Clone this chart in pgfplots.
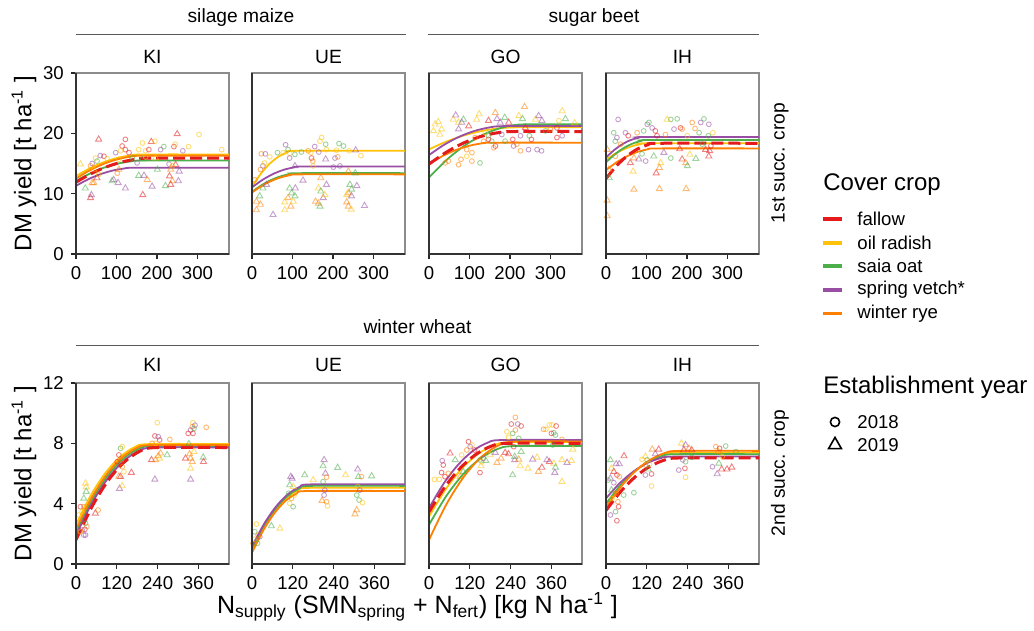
\documentclass[border=0pt]{standalone}
\usepackage{fontspec}
\setmainfont{Liberation Sans}
\usepackage{pgfplots}
\usepackage{pgfplotstable}
\pgfplotsset{compat=1.18}

\definecolor{cF}{HTML}{E41A1C}
\definecolor{cR}{HTML}{FFC20A}
\definecolor{cS}{HTML}{4DAF4A}
\definecolor{cV}{HTML}{984EA3}
\definecolor{cW}{HTML}{FF7F00}
\newcommand\fs[1]{\fontsize{#1}{#1}\selectfont}

\pgfplotsset{
  panel/.style={scale only axis, width=76.5pt, height=90.5pt, anchor=north west,
    xmin=0, ymin=0, axis line style={draw=black!45, line width=0.6pt},
    tick pos=left, tick align=outside, major tick length=2.6pt,
    every tick/.style={black!85, line width=0.6pt},
    ticklabel style={font=\fs{9.3}},
    /pgf/number format/assume math mode=true,
    extra description/.code={\draw[black!80, line width=0.6pt] (0,1)--(0,0)--(1,0);}},
  toprow/.style={panel, xmax=378, ymax=30, xtick={0,100,200,300}, ytick={0,10,20,30}},
  botrow/.style={panel, xmax=450, ymax=12, xtick={0,120,240,360}, ytick={0,4,8,12}},
  noy/.style={ytick=\empty},
  pts/.style={scatter, only marks, scatter src=explicit symbolic,
    mark options={line width=0.45pt, opacity=0.55},
    scatter/classes={
      Fo={mark=o, draw=cF, mark size=1.2pt}, Ft={mark=triangle, draw=cF, mark size=1.75pt},
      Ro={mark=o, draw=cR, mark size=1.2pt}, Rt={mark=triangle, draw=cR, mark size=1.75pt},
      So={mark=o, draw=cS, mark size=1.2pt}, St={mark=triangle, draw=cS, mark size=1.75pt},
      Vo={mark=o, draw=cV, mark size=1.2pt}, Vt={mark=triangle, draw=cV, mark size=1.75pt},
      Wo={mark=o, draw=cW, mark size=1.2pt}, Wt={mark=triangle, draw=cW, mark size=1.75pt}}},
  cv/.style={#1, line width=0.9pt, smooth, no marks},
  cvF/.style={cF, line width=1.5pt, smooth, no marks, dash pattern=on 6pt off 2.5pt},
}

% ---- points: x y class (F fallow, R oil radish, S saia oat, V spring vetch, W winter rye; o 2018, t 2019)
\pgfplotstableread{
x y c
11 14.9 Rt
56 19.0 Ft
122 19.0 Fo
304 19.8 Ro
250 19.9 Ft
360 17.3 Ro
278 17.8 Ro
164 18.4 Ro
186 18.6 Ft
195 18.7 Ro
209 17.3 Vo
217 17.8 So
242 17.8 Fo
264 17.1 Vo
245 18.2 Ro
122 17.3 Fo
114 17.9 Fo
98 16.8 Vo
131 16.8 Fo
110 17.1 Ro
155 17.3 Ro
172 17.1 Ro
180 17.3 Fo
60 16.3 Vo
69 16.2 Fo
48 15.9 Ro
77 15.8 Ro
40 15.0 Vo
52 15.4 So
36 14.6 Wo
44 14.0 Rt
106 15.7 Ro
139 15.9 So
151 15.1 Vo
164 15.7 St
172 16.1 Ro
197 15.9 Rt
230 14.9 Vo
238 14.6 Ro
246 14.8 Ft
255 13.7 Vt
234 14.0 Wt
102 13.4 Wo
106 14.0 Wt
93 12.3 Vt
89 12.1 St
104 11.8 Vt
122 10.9 Vt
155 13.0 St
168 13.0 Vt
176 12.3 Wt
201 14.0 St
188 11.2 Vt
165 9.8 Ft
231 12.9 Ft
238 12.1 Wt
221 11.3 St
234 11.5 Ft
253 12.1 Vt
23 10.9 St
38 9.8 Vt
36 9.3 Ft
40 11.8 Wt
44 11.8 Wt
52 12.6 Ft
56 13.2 Ro
}\tKIa
\pgfplotstableread{
x y c
23 16.6 Wo
33 16.6 Vo
44 16.1 Ro
63 16.8 So
83 18.1 Vo
89 17.3 So
77 16.8 Ro
93 16.7 Ro
93 15.9 Vo
106 16.5 So
122 16.9 So
139 17.1 Wo
145 16.8 Ro
155 17.8 Vo
147 15.9 Fo
150 15.4 Wo
151 14.6 Ro
168 18.7 Ro
172 19.3 Ro
182 18.2 So
165 16.9 Vo
184 17.3 Ro
209 17.2 Ro
215 18.3 So
226 17.9 So
240 17.1 Ro
205 15.9 Vo
212 16.1 Wo
201 14.4 Vo
217 14.6 Vo
269 16.3 Ro
256 17.2 Vt
21 14.0 Wo
27 14.6 Vo
31 15.1 Ro
7 12.3 Wo
106 14.6 Vt
126 12.2 Vt
170 12.6 Wt
182 15.7 Vt
238 13.7 Wt
255 13.4 St
93 10.9 St
98 10.1 St
106 9.6 St
89 9.3 Wt
81 8.6 Rt
96 7.9 Wt
81 7.3 Rt
102 8.7 Rt
107 10.9 Vt
164 10.9 Rt
170 10.4 St
184 11.5 Vt
176 9.3 Vt
157 8.7 Wt
164 8.4 Wt
168 7.9 St
180 9.8 Rt
242 11.5 St
246 10.7 St
238 10.1 Wt
234 9.8 Rt
234 8.6 Wt
238 7.9 Wt
245 7.4 Rt
259 11.3 Vt
246 9.6 Vt
278 8.0 Vt
11 8.7 Wt
11 7.3 Wt
19 9.6 St
21 8.2 Wt
27 10.9 St
36 11.5 Vt
52 6.5 Vt
}\tUEa
\pgfplotstableread{
x y c
15 21.5 Rt
23 21.9 Rt
31 20.7 Rt
11 20.4 Rt
27 19.8 Rt
60 22.3 Rt
73 21.8 Rt
118 22.3 Rt
124 23.2 Rt
164 23.4 Wt
222 22.9 Rt
236 24.4 Wt
263 22.3 Rt
329 23.7 Rt
321 22.1 Ro
360 21.7 Rt
66 23.0 Vt
81 21.8 Vt
73 20.7 Vt
168 22.4 Vt
176 21.8 Vt
271 22.9 Vt
279 22.1 Vt
226 19.6 Vo
85 22.3 St
187 22.6 St
231 22.4 St
337 22.4 St
147 19.6 So
98 21.2 Ft
147 22.1 Ft
197 21.8 Ft
316 20.9 Fo
238 20.9 Ft
114 19.3 Wo
135 18.7 Wo
160 17.6 Wo
164 17.9 Fo
155 18.7 So
188 18.7 So
207 19.0 Fo
217 18.2 Wo
209 17.9 Vo
226 17.1 Wo
246 17.3 Vo
253 19.0 Fo
248 19.6 So
267 17.3 Vo
278 17.1 Vo
288 20.4 So
300 20.7 Wo
316 19.3 Fo
329 19.6 Vo
180 19.8 Vo
139 20.1 Ro
40 15.1 Wo
48 15.4 Wo
73 14.8 Wo
79 15.7 Wo
93 16.2 Ro
106 15.4 Wo
126 15.1 So
93 17.3 Wo
106 16.8 Wo
147 19.0 Fo
}\tGOa
\pgfplotstableread{
x y c
30 22.3 Vo
19 20.1 So
27 19.3 Vo
23 18.7 So
36 18.2 Wo
48 20.1 Vo
55 19.6 Fo
77 20.1 Wo
93 20.4 So
102 21.5 Vo
106 21.8 So
114 20.9 Vo
122 20.4 Fo
126 19.6 Fo
147 19.8 Wo
160 22.3 So
176 22.4 So
168 20.7 Vo
184 20.9 Fo
188 20.7 Wo
213 21.8 Wo
220 20.8 Wo
234 21.8 Vo
242 22.4 So
254 21.5 Vo
264 20.1 Ro
253 19.6 So
259 17.9 Fo
246 17.3 Ft
238 18.2 So
201 19.6 Ro
230 20.1 So
151 22.3 Rt
3 17.3 Wt
8 12.6 St
7 14.0 Wt
60 15.1 Ft
69 15.9 Wt
67 13.7 Rt
69 10.7 Wt
81 15.7 Vt
98 15.4 Vo
118 16.2 St
124 13.4 Ft
135 15.1 Rt
132 14.3 Wt
132 10.8 Wt
143 16.8 Vt
160 15.9 So
188 15.7 Ft
197 15.1 Wt
201 14.6 St
198 10.8 Wt
207 16.5 Rt
222 15.8 St
254 16.2 Ft
256 17.1 Ft
3 8.9 Wt
3 6.3 Wt
23 16.2 Wo
89 16.6 So
182 17.4 Ft
}\tIHa
\pgfplotstableread{
x y c
28 5.35 Rt
30 5.1 Rt
30 4.8 St
23 4.35 St
13 3.8 Fo
23 3.8 Wo
18 3.47 Ro
8 3.25 Ro
28 2.7 So
32 2.48 Wo
18 2.25 Vo
23 1.92 Vo
28 1.92 Vo
13 2.14 Ro
26 2.3 Fo
57 3.36 Ft
65 3.58 Wo
131 7.67 So
136 7.78 Ro
126 7.23 Fo
121 6.78 Fo
134 6.9 Wo
136 6.45 Wo
126 5.8 Wt
141 6.12 Ro
128 5.0 Vt
136 5.17 Rt
163 6.06 Ft
131 5.79 Ft
239 9.37 Ro
232 8.49 Fo
242 8.44 Vo
246 8.22 Fo
234 8.0 Ro
224 8.0 Wo
222 6.9 Ft
234 6.9 Wt
242 7.16 Wt
249 7.34 Wt
232 5.61 Vt
276 8.26 Wo
268 7.23 St
246 7.0 Rt
344 9.37 Ro
342 9.1 Wo
337 8.88 Vo
350 9.2 Vo
330 8.66 Fo
344 8.66 Fo
347 8.99 So
332 7.96 St
322 7.0 Ft
337 7.0 Wt
342 6.78 Wt
347 7.45 Rt
337 6.34 Rt
337 5.61 Vt
374 7.07 St
375 6.78 Ft
383 9.06 Wo
334 7.29 Wt
}\tKIb
\pgfplotstableread{
x y c
13 2.65 Ro
8 2.14 So
18 1.92 Wo
6 1.64 Ro
16 1.37 So
23 1.81 Vo
3 1.37 Wo
57 2.52 St
82 2.36 Rt
114 5.79 Vt
118 5.68 Vt
111 5.24 St
121 5.13 Rt
108 4.69 So
116 4.35 Wo
111 4.02 Ro
121 3.8 So
124 4.57 Ro
155 5.9 St
180 5.57 Rt
212 6.9 Vt
209 6.5 St
216 6.01 Vt
219 5.75 Wo
209 5.46 So
214 4.9 Vo
206 4.2 Wt
219 4.13 Wo
222 3.85 Ro
212 4.57 Vo
252 6.39 St
275 5.9 Rt
352 5.83 St
311 6.28 Vt
313 5.79 St
322 5.79 Wo
311 5.13 Ro
308 4.57 So
315 4.24 So
325 4.07 Ro
308 3.58 Wt
303 3.31 Wt
317 4.9 Vo
}\tUEb
\pgfplotstableread{
x y c
16 5.61 Ro
30 5.61 Ro
39 6.85 Vo
42 6.56 Fo
37 6.06 Fo
47 5.79 Fo
57 6.01 Wo
62 7.34 Ft
77 6.9 St
96 7.23 Ro
101 6.12 St
92 5.79 Wt
111 7.56 Wo
116 8.11 Fo
121 7.78 Vo
126 7.89 Ro
134 7.56 Fo
150 6.9 So
155 6.78 Ro
150 6.06 Fo
160 7.0 Vo
153 6.5 Rt
167 6.85 St
180 7.23 Rt
200 6.72 Wt
212 7.0 Wt
195 7.38 Vt
224 7.38 Ft
234 7.29 Ft
254 9.72 Wo
242 9.28 Fo
261 9.28 Vo
271 9.15 Fo
229 8.77 Ro
246 8.66 So
254 8.88 Wo
234 8.4 Ro
264 8.33 So
249 7.78 Fo
252 7.12 St
252 6.9 Vt
264 6.94 Wt
271 7.45 St
268 6.5 Rt
246 5.9 St
291 6.34 Rt
344 8.93 Ro
354 9.22 Ro
362 9.22 Ro
374 9.15 Fo
337 8.93 Wo
367 8.7 So
360 8.66 Fo
372 8.55 So
364 7.89 So
391 8.26 Wo
305 6.94 Vt
318 7.07 Rt
332 6.4 Ft
322 6.12 Wt
347 6.9 Vt
354 6.78 Ft
367 6.67 Rt
372 6.4 St
370 6.06 Vt
391 6.9 Rt
406 6.72 Vt
419 6.85 Rt
423 7.6 Rt
391 5.46 Rt
}\tGOb
\pgfplotstableread{
x y c
13 6.9 St
30 6.63 Vt
39 6.63 Vt
53 7.16 Ft
16 6.34 Rt
23 6.12 Ft
32 5.9 Fo
39 5.79 Wo
13 5.68 Vt
6 5.57 So
23 5.39 Vo
16 4.9 St
30 4.69 Wo
18 4.35 Ro
35 4.13 Wo
37 3.8 Fo
28 3.47 So
13 3.25 Vo
32 2.87 Fo
52 4.57 So
82 4.73 So
116 7.12 Rt
136 7.6 Wt
155 7.6 Ft
145 7.29 Vt
121 6.9 So
128 6.63 Ro
116 5.9 Vo
134 5.97 Fo
134 5.17 Ro
124 6.28 St
106 6.94 Ro
116 6.56 Wo
222 8.0 Rt
234 7.89 Vt
244 7.67 Wt
229 7.56 Ft
252 7.56 Ft
226 6.9 Vo
234 6.78 So
214 6.23 Vo
232 6.34 Fo
234 5.75 Ro
252 7.07 So
323 7.78 Wo
334 7.67 Fo
352 7.82 So
330 7.45 Wt
342 7.12 Ro
313 6.45 Vo
332 6.67 St
340 6.28 Ft
327 5.97 Vt
356 6.28 Ft
370 6.41 Ft
382 7.45 So
}\tIHb

\begin{document}
\begin{tikzpicture}
\path[use as bounding box] (0,0) rectangle (517pt,-315.5pt);

% ---------------- top row: 1st succeeding crop
\begin{axis}[toprow, at={(38pt,-36.5pt)}]
\addplot[pts] table[x=x,y=y,meta=c]{\tKIa};
\addplot[cv=cR] coordinates {(0,12.9)(34,14.2)(68,15.2)(102,15.92)(136,16.36)(170,16.5)(378,16.5)};
\addplot[cv=cS] coordinates {(0,12.1)(34,13.32)(68,14.28)(102,14.96)(136,15.36)(170,15.5)(378,15.5)};
\addplot[cv=cV] coordinates {(0,11.3)(30,12.38)(60,13.22)(90,13.82)(120,14.18)(150,14.3)(378,14.3)};
\addplot[cv=cW] coordinates {(0,12.5)(34,13.87)(68,14.93)(102,15.69)(136,16.15)(170,16.3)(378,16.3)};
\addplot[cvF] coordinates {(0,11.9)(38,13.34)(76,14.46)(114,15.26)(152,15.74)(190,15.9)(378,15.9)};
\end{axis}

\begin{axis}[toprow, noy, at={(126pt,-36.5pt)}]
\addplot[pts] table[x=x,y=y,meta=c]{\tUEa};
\addplot[cv=cR] coordinates {(0,11.2)(22,13.32)(44,14.98)(66,16.16)(88,16.86)(110,17.1)(378,17.1)};
\addplot[cv=cS] coordinates {(0,10.3)(24,11.42)(48,12.28)(72,12.9)(96,13.28)(120,13.4)(378,13.4)};
\addplot[cv=cV] coordinates {(0,11.05)(26,12.29)(52,13.26)(78,13.95)(104,14.36)(130,14.5)(378,14.5)};
\addplot[cv=cW] coordinates {(0,10.2)(24,11.28)(48,12.12)(72,12.72)(96,13.08)(120,13.2)(378,13.2)};
\end{axis}

\begin{axis}[toprow, noy, at={(214.5pt,-36.5pt)}]
\addplot[pts] table[x=x,y=y,meta=c]{\tGOa};
\addplot[cv=cR] coordinates {(0,17.35)(44,18.66)(88,19.69)(132,20.42)(176,20.85)(220,21)(378,21)};
\addplot[cv=cS] coordinates {(0,12.7)(48,15.87)(96,18.33)(144,20.09)(192,21.15)(240,21.5)(378,21.5)};
\addplot[cv=cV] coordinates {(0,16.4)(38,18.13)(76,19.47)(114,20.43)(152,21.01)(190,21.2)(378,21.2)};
\addplot[cv=cW] coordinates {(0,14.9)(32,16.18)(64,17.17)(96,17.88)(128,18.31)(160,18.45)(378,18.45)};
\addplot[cvF] coordinates {(0,14.9)(42,16.84)(84,18.36)(126,19.44)(168,20.08)(210,20.3)(378,20.3)};
\end{axis}

\begin{axis}[toprow, noy, at={(303pt,-36.5pt)}]
\addplot[pts] table[x=x,y=y,meta=c]{\tIHa};
\addplot[cv=cR] coordinates {(0,15.6)(22,16.59)(44,17.36)(66,17.91)(88,18.24)(110,18.35)(378,18.35)};
\addplot[cv=cS] coordinates {(0,15.2)(22,16.53)(44,17.57)(66,18.31)(88,18.75)(110,18.9)(378,18.9)};
\addplot[cv=cV] coordinates {(0,16)(20,17.22)(40,18.18)(60,18.86)(80,19.26)(100,19.4)(378,19.4)};
\addplot[cv=cW] coordinates {(0,13.9)(26,15.2)(52,16.2)(78,16.92)(104,17.36)(130,17.5)(378,17.5)};
\addplot[cvF] coordinates {(0,12.5)(26,14.61)(52,16.24)(78,17.41)(104,18.12)(130,18.35)(378,18.35)};
\end{axis}

% ---------------- bottom row: 2nd succeeding crop
\begin{axis}[botrow, at={(38pt,-191.5pt)}]
\addplot[pts] table[x=x,y=y,meta=c]{\tKIb};
\addplot[cv=cR] coordinates {(0,2.6)(43,4.53)(86,6.02)(129,7.09)(172,7.74)(215,7.95)(450,7.95)};
\addplot[cv=cS] coordinates {(0,2.1)(45,4.16)(90,5.76)(135,6.9)(180,7.59)(225,7.82)(450,7.82)};
\addplot[cv=cV] coordinates {(0,1.9)(46,4.0)(92,5.62)(138,6.79)(184,7.49)(230,7.72)(450,7.72)};
\addplot[cv=cW] coordinates {(0,2.3)(44,4.31)(88,5.87)(132,6.99)(176,7.66)(220,7.88)(450,7.88)};
\addplot[cvF] coordinates {(0,1.6)(47,3.8)(94,5.52)(141,6.74)(188,7.48)(235,7.72)(450,7.72)};
\end{axis}

\begin{axis}[botrow, noy, at={(126pt,-191.5pt)}]
\addplot[pts] table[x=x,y=y,meta=c]{\tUEb};
\addplot[cv=cR] coordinates {(0,0.9)(34,2.39)(68,3.56)(102,4.39)(136,4.88)(170,5.05)(450,5.05)};
\addplot[cv=cS] coordinates {(0,1.05)(35,2.54)(70,3.69)(105,4.52)(140,5.01)(175,5.18)(450,5.18)};
\addplot[cv=cV] coordinates {(0,1.15)(35,2.64)(70,3.79)(105,4.62)(140,5.11)(175,5.28)(450,5.28)};
\addplot[cv=cW] coordinates {(0,0.75)(33,2.22)(66,3.37)(99,4.19)(132,4.68)(165,4.84)(450,4.84)};
\end{axis}

\begin{axis}[botrow, noy, at={(214.5pt,-191.5pt)}]
\addplot[pts] table[x=x,y=y,meta=c]{\tGOb};
\addplot[cv=cR] coordinates {(0,3.15)(48,4.92)(96,6.31)(144,7.29)(192,7.88)(240,8.08)(450,8.08)};
\addplot[cv=cS] coordinates {(0,2.6)(50,4.48)(100,5.94)(150,6.98)(200,7.61)(250,7.82)(450,7.82)};
\addplot[cv=cV] coordinates {(0,3.7)(43,5.33)(86,6.59)(129,7.5)(172,8.04)(215,8.22)(450,8.22)};
\addplot[cv=cW] coordinates {(0,1.6)(51,3.95)(102,5.77)(153,7.08)(204,7.86)(255,8.12)(450,8.12)};
\addplot[cvF] coordinates {(0,3.45)(46,5.09)(92,6.36)(138,7.27)(184,7.82)(230,8)(450,8)};
\end{axis}

\begin{axis}[botrow, noy, at={(303pt,-191.5pt)}]
\addplot[pts] table[x=x,y=y,meta=c]{\tIHb};
\addplot[cv=cR] coordinates {(0,3.9)(42,5.15)(84,6.13)(126,6.82)(168,7.24)(210,7.38)(450,7.38)};
\addplot[cv=cS] coordinates {(0,4)(41,5.18)(82,6.1)(123,6.76)(164,7.15)(205,7.28)(450,7.28)};
\addplot[cv=cV] coordinates {(0,4.35)(40,5.35)(80,6.12)(120,6.68)(160,7.01)(200,7.12)(450,7.12)};
\addplot[cv=cW] coordinates {(0,3.75)(43,5.1)(86,6.15)(129,6.9)(172,7.35)(215,7.5)(450,7.5)};
\addplot[cvF] coordinates {(0,3.55)(43,4.8)(86,5.78)(129,6.47)(172,6.89)(215,7.03)(450,7.03)};
\end{axis}

% ---------------- strips
\begin{scope}[every node/.style={inner sep=0pt, font=\fs{9.6}}]
\node at (120.5pt,-9pt) {silage maize};
\node at (297pt,-9pt) {sugar beet};
\draw[black!65, line width=0.5pt] (38pt,-17.5pt) -- (203pt,-17.5pt);
\draw[black!65, line width=0.5pt] (214pt,-17.5pt) -- (379.5pt,-17.5pt);
\node at (208.75pt,-163.5pt) {winter wheat};
\draw[black!65, line width=0.5pt] (38pt,-172.5pt) -- (379.5pt,-172.5pt);
\foreach \yy in {-28.5pt,-182.5pt}{
  \node at (76.25pt,\yy) {KI};
  \node at (164.25pt,\yy) {UE};
  \node at (252.75pt,\yy) {GO};
  \node at (341.25pt,\yy) {IH};
}
\node[rotate=90] at (390pt,-81.5pt) {1st succ. crop};
\node[rotate=90] at (390pt,-236.5pt) {2nd succ. crop};
\end{scope}

% ---------------- axis titles
\node[rotate=90, inner sep=0pt, font=\fs{12}] at (12pt,-81.75pt) {DM yield [t ha\textsuperscript{-1} ]};
\node[rotate=90, inner sep=0pt, font=\fs{12}] at (12pt,-236.75pt) {DM yield [t ha\textsuperscript{-1} ]};
\node[inner sep=0pt, font=\fs{12.5}] at (208.75pt,-303.5pt)
  {N\textsubscript{supply} (SMN\textsubscript{spring} + N\textsubscript{fert}) [kg N ha\textsuperscript{-1} ]};

% ---------------- legends
\node[anchor=west, inner sep=0pt, font=\fs{12}] at (411.5pt,-92.5pt) {Cover crop};
\foreach \cc/\yy/\tt in {cF/-109.5/fallow, cR/-121.35/oil radish, cS/-133/saia oat, cV/-145/spring vetch*, cW/-156.65/winter rye}{
  \draw[\cc, line width=1.8pt] (411.5pt,\yy pt) -- (421pt,\yy pt);
  \node[anchor=west, inner sep=0pt, font=\fs{9.3}] at (428.5pt,\yy pt) {\tt};
}
\node[anchor=west, inner sep=0pt, font=\fs{12}] at (411.5pt,-193.5pt) {Establishment year};
\draw[black, line width=0.8pt] (417.5pt,-211pt) circle (2.3pt);
\node[anchor=west, inner sep=0pt, font=\fs{9.3}] at (428.5pt,-211pt) {2018};
\draw[black, line width=0.8pt] (414.3pt,-224.3pt) -- (420.7pt,-224.3pt) -- (417.5pt,-218.7pt) -- cycle;
\node[anchor=west, inner sep=0pt, font=\fs{9.3}] at (428.5pt,-222.5pt) {2019};
\end{tikzpicture}
\end{document}
